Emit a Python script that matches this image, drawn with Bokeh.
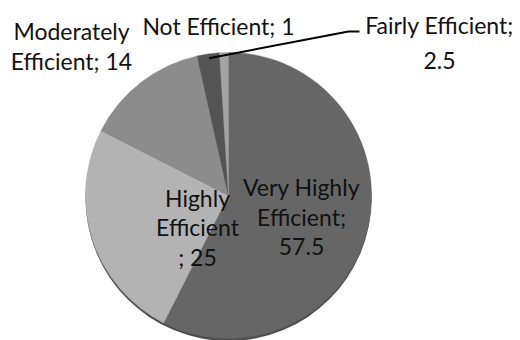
import math
from bokeh.plotting import figure
from bokeh.models import ColumnDataSource, Range1d
from bokeh.core.properties import value
from bokeh.embed import file_html
from bokeh.resources import INLINE

# ---- data ----
categories = ["Very Highly Efficient", "Highly Efficient", "Moderately Efficient",
              "Fairly Efficient", "Not Efficient"]
values = [57.5, 25, 14, 2.5, 1]

# ---- style / layout ----
colors = ["#666666", "#b3b3b3", "#8c8c8c", "#545454", "#a3a3a3"]
W, H = 520, 340
CX, CY_S, R = 228, 195, 143          # pie centre (screen y) and radius in px
FONT = "Lato"
FSIZE = "23px"
DY = -7                              # baseline correction

def sy(y):
    return H - y

total = sum(values)
starts, ends = [], []
cum = 0.0
for v in values:
    starts.append(math.pi / 2 - 2 * math.pi * cum / total)
    cum += v
    ends.append(math.pi / 2 - 2 * math.pi * cum / total)

src = ColumnDataSource(dict(cat=categories, val=values, start=starts, end=ends, color=colors))

p = figure(width=W, height=H, output_backend="svg", toolbar_location=None,
           x_range=Range1d(0, W), y_range=Range1d(0, H),
           x_axis_type=None, y_axis_type=None,
           min_border=0, min_border_left=0, min_border_right=0,
           min_border_top=0, min_border_bottom=0)
p.outline_line_color = None
p.grid.visible = False
p.background_fill_color = "white"
p.border_fill_color = "white"

# soft shadow rim under the pie
p.circle(x=[CX], y=[sy(CY_S) - 2.5], radius=R, fill_color="#2e2e2e", line_color=None, alpha=0.85)

p.wedge(x=CX, y=sy(CY_S), radius=R, start_angle="start", end_angle="end",
        direction="clock", fill_color="color", line_color="color", line_width=0.5, source=src)

def fmt(v):
    return f"{v:g}"

# labels: (lines, centre x, first baseline screen y, line step)
labels = [
    (["Very Highly", "Efficient;", fmt(values[0])], 301, 193, 30),
    (["Highly", "Efficient", "; " + fmt(values[1])], 197, 204, 29.5),
    (["Moderately", "Efficient; " + fmt(values[2])], 71, 37, 30.5),
    (["Fairly Efficient;", fmt(values[3])], 439, 31, 36),
    (["Not Efficient; " + fmt(values[4])], 218, 32, 30),
]
for lines, x, y0, step in labels:
    xs = [x] * len(lines)
    ys = [sy(y0 + DY + i * step) for i in range(len(lines))]
    p.text(x=xs, y=ys, text=lines, text_font=value(FONT), text_font_size=FSIZE,
           text_align="center", text_baseline="alphabetic", text_color="#111111")

# leader line for the "Fairly Efficient" slice
mid = (starts[3] + ends[3]) / 2
lx0 = CX + R * 0.97 * math.cos(mid)
ly0 = sy(CY_S) + R * 0.97 * math.sin(mid)
p.line(x=[lx0, 348, 359], y=[ly0, sy(31), sy(31)], line_color="black", line_width=2)

open("out.html", "w").write(file_html(p, INLINE))
